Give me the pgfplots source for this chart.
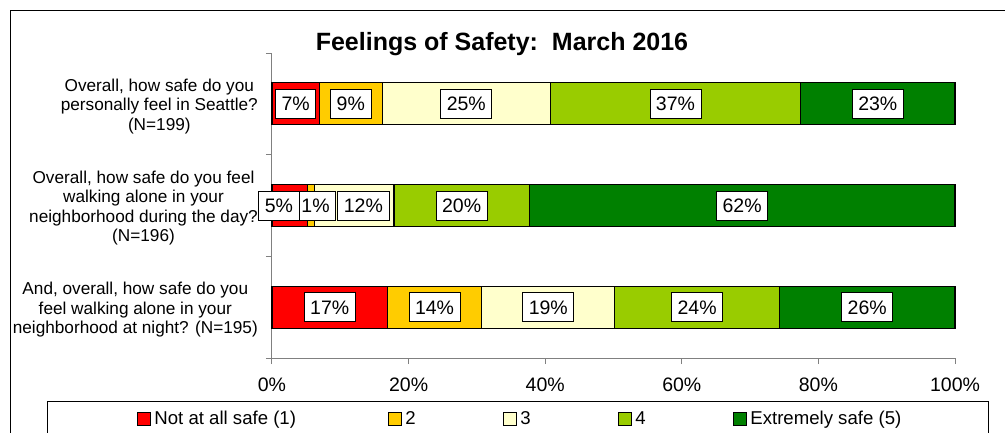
\documentclass[border=0pt]{standalone}
\usepackage{fontspec}
\setmainfont{Liberation Sans}
\usepackage{pgfplots}
\usepackage{pgfplotstable}
\pgfplotsset{compat=1.18}
\definecolor{cA}{HTML}{FF0000}
\definecolor{cB}{HTML}{FFCC00}
\definecolor{cC}{HTML}{FFFFCC}
\definecolor{cD}{HTML}{99CC00}
\definecolor{cE}{HTML}{008000}
\definecolor{axgray}{HTML}{808080}

\pgfplotstableread{
y x lab sh
1 6.93 7 0
2 5.17 5 -10.7
3 16.9 17 0
}\tA
\pgfplotstableread{
y x lab sh
1 9.22 9 0
2 1.0 1 4.8
3 13.8 14 0
}\tB
\pgfplotstableread{
y x lab sh
1 24.6 25 0
2 11.7 12 9.3
3 19.5 19 0
}\tC
\pgfplotstableread{
y x lab sh
1 36.65 37 0
2 19.8 20 0
3 24.1 24 0
}\tD
\pgfplotstableread{
y x lab sh
1 22.6 23 0
2 62.33 62 0
3 25.7 26 0
}\tE

\pgfplotsset{base/.style={
  at={(272pt,74pt)}, anchor=south west,
  scale only axis, width=683pt, height=305pt,
  xbar stacked, bar width=42pt,
  xmin=0, xmax=100, ymin=0.5, ymax=3.5, y dir=reverse,
  clip=false}}

\begin{document}
\begin{tikzpicture}
\begin{axis}[
  base,
  axis x line*=bottom, axis y line*=left,
  axis line style={draw=axgray, line width=1pt, -},
  tick style={draw=axgray, line width=1pt},
  tick align=outside, major tick length=6pt,
  xtick={0,20,40,60,80,100},
  xticklabels={0\%,20\%,40\%,60\%,80\%,100\%},
  xticklabel style={font=\fontsize{19.5}{22}\selectfont, yshift=-10pt},
  ytick={0.5,1.5,2.5,3.5}, yticklabels={},
  extra y ticks={1,2,3},
  extra y tick labels={{Overall, how safe do you\\personally feel in Seattle?\\(N=199)},{Overall, how safe do you feel\\walking alone in your\\neighborhood during the day?\\(N=196)},{And, overall, how safe do you\\feel walking alone in your\\neighborhood at night? (N=195)}},
  extra y tick style={major tick length=0pt},
  yticklabel style={align=center, inner sep=0pt, xshift=-14pt, yshift=-2.5pt, font=\fontsize{17.2}{19.4}\selectfont},
  title={Feelings of Safety:\ \ March 2016},
  title style={font=\bfseries\fontsize{25}{28}\selectfont, at={(0.3367,1.0098)}, anchor=center},
  every axis plot/.append style={draw=black, line width=1.2pt},
  legend style={at={(-0.3294,-0.141)}, anchor=north west, draw=black, line width=0.8pt,
    inner xsep=90pt, inner ysep=10pt, column sep=0pt,
    nodes={inner sep=0pt}, font=\fontsize{18.6}{21}\selectfont},
  legend columns=5, legend cell align=left,
  legend image code/.code={\draw[#1, line width=1pt] (0pt,-6.5pt) rectangle (13pt,6.5pt);},
]
\addplot[fill=cA] table[x=x, y=y] {\tA};
\addplot[fill=cB] table[x=x, y=y] {\tB};
\addplot[fill=cC] table[x=x, y=y] {\tC};
\addplot[fill=cD] table[x=x, y=y] {\tD};
\addplot[fill=cE] table[x=x, y=y] {\tE};
\legend{\makebox[237pt][l]{\hspace{3pt}Not at all safe (1)},\makebox[101pt][l]{\hspace{3pt}2},\makebox[101pt][l]{\hspace{3pt}3},\makebox[101pt][l]{\hspace{3pt}4},\makebox[151pt][l]{\hspace{3pt}Extremely safe (5)}}
\end{axis}
\begin{axis}[
  base, hide axis,
  point meta=explicit symbolic,
  nodes near coords={\pgfplotspointmeta\%},
  visualization depends on={\thisrow{sh} \as \mysh},
  every node near coord/.append style={anchor=center, xshift={\mysh*1pt},
    draw=black, text=black, line width=0.8pt, fill=white, inner xsep=6pt, inner ysep=0pt,
    text height=14pt, text depth=0pt, minimum height=29pt,
    font=\fontsize{19.5}{22}\selectfont},
]
\addplot[draw=none, fill=none] table[x=x, y=y, meta=lab] {\tA};
\addplot[draw=none, fill=none] table[x=x, y=y, meta=lab] {\tB};
\addplot[draw=none, fill=none] table[x=x, y=y, meta=lab] {\tC};
\addplot[draw=none, fill=none] table[x=x, y=y, meta=lab] {\tD};
\addplot[draw=none, fill=none] table[x=x, y=y, meta=lab] {\tE};
\end{axis}
\draw[line width=1pt,black] (10.7pt,-20pt) -- (10.7pt,421.3pt) -- (1030pt,421.3pt);
\pgfresetboundingbox
\path[use as bounding box] (0pt,0pt) rectangle (1005pt,432pt);
\end{tikzpicture}
\end{document}
